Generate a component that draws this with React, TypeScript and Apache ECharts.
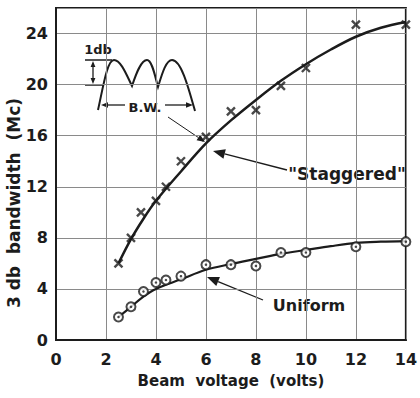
import React, { useEffect, useRef } from "react";
import * as echarts from "echarts";

const xTicks = [0, 2, 4, 6, 8, 10, 12, 14];
const yTicks = [0, 4, 8, 12, 16, 20, 24];

const staggeredX = [2.5, 3, 3.4, 4, 4.4, 5, 6, 7, 8, 9, 10, 12, 14];
const staggeredY = [6, 8, 10, 10.9, 12, 14, 15.9, 17.9, 18, 19.9, 21.3, 24.7, 24.7];

const uniformX = [2.5, 3, 3.5, 4, 4.4, 5, 6, 7, 8, 9, 10, 12, 14];
const uniformY = [1.8, 2.6, 3.8, 4.5, 4.7, 5.0, 5.9, 5.9, 5.8, 6.85, 6.85, 7.3, 7.7];

const staggeredCurveX = [2.5, 3, 3.5, 4, 5, 6, 7, 8, 9, 10, 11, 12, 13, 14];
const staggeredCurveY = [6.0, 7.9, 9.5, 10.9, 13.2, 15.4, 17.2, 18.8, 20.3, 21.6, 22.75, 23.75, 24.45, 24.9];

const uniformCurveX = [2.5, 3, 3.5, 4, 5, 6, 7, 8, 9, 10, 11, 12, 13, 14];
const uniformCurveY = [1.8, 2.6, 3.4, 4.0, 4.75, 5.5, 5.95, 6.35, 6.75, 7.05, 7.35, 7.6, 7.7, 7.75];

const INK = "#1c1c1c";
const FONT = "DejaVu Sans";

function zip(xs: number[], ys: number[]) {
  return xs.map((x, i) => [x, ys[i]]);
}

function arrow(x1: number, y1: number, x2: number, y2: number, w = 1.5, head = 9) {
  const a = Math.atan2(y2 - y1, x2 - x1);
  const hw = head * 0.4;
  const bx = x2 - head * Math.cos(a);
  const by = y2 - head * Math.sin(a);
  const px = -Math.sin(a) * hw;
  const py = Math.cos(a) * hw;
  return [
    { type: "line", shape: { x1, y1, x2: bx, y2: by }, style: { stroke: INK, lineWidth: w } },
    {
      type: "polygon",
      shape: { points: [[x2, y2], [bx + px, by + py], [bx - px, by - py]] },
      style: { fill: INK },
    },
  ];
}

const wavePath =
  "M98,110 C103,88 107,60 114,60 C121,60 127,76 132,86 C136,74 141,60 147,60 C152,60 155,76 158,87 C162,74 166,60 172,60 C181,60 188,86 195,111";

export default function App() {
  const ref = useRef<HTMLDivElement>(null);
  useEffect(() => {
    if (!ref.current) return;
    echarts.graphic.registerShape("wave", echarts.graphic.extendPath(wavePath, {}) as any);
    const chart = echarts.init(ref.current, null, { renderer: "svg" });
    const graphics: any[] = [
      {
        type: "text",
        x: 14,
        y: 203,
        rotation: Math.PI / 2,
        style: {
          text: "3 db  bandwidth  (Mc)",
          font: `bold 17px "${FONT}"`,
          fill: INK,
          align: "center",
          verticalAlign: "middle",
        },
      },
      // inset
      {
        type: "wave",
        x: 0,
        y: 0,
        style: { stroke: INK, lineWidth: 2, fill: "none" },
      },
      { type: "line", shape: { x1: 85, y1: 60, x2: 112, y2: 60 }, style: { stroke: INK, lineWidth: 1.5 } },
      { type: "line", shape: { x1: 85, y1: 85, x2: 103, y2: 85 }, style: { stroke: INK, lineWidth: 1.5 } },
      ...arrow(93, 72, 93, 61, 1.3, 6),
      ...arrow(93, 72, 93, 84, 1.3, 6),
      {
        type: "text",
        x: 98,
        y: 49,
        style: { text: "1db", font: `bold 13px "${FONT}"`, fill: INK, align: "center", verticalAlign: "middle" },
      },
      {
        type: "text",
        x: 145,
        y: 107,
        style: { text: "B.W.", font: `bold 13px "${FONT}"`, fill: INK, align: "center", verticalAlign: "middle" },
      },
      ...arrow(125, 105, 101, 105, 1.3, 7),
      ...arrow(165, 105, 193, 105, 1.3, 7),
      ...arrow(168, 117, 205, 142, 1, 8),
      // Staggered
      {
        type: "text",
        x: 347,
        y: 174,
        style: { text: "\"Staggered\"", font: `bold 17px "${FONT}"`, fill: INK, align: "center", verticalAlign: "middle" },
      },
      ...arrow(287, 170, 213, 151, 1.3, 12),
      // Uniform
      {
        type: "text",
        x: 309,
        y: 305,
        style: { text: "Uniform", font: `bold 16px "${FONT}"`, fill: INK, align: "center", verticalAlign: "middle" },
      },
      ...arrow(263, 300, 207, 277, 1.3, 12),
    ];

    chart.setOption({
      animation: false,
      backgroundColor: "#ffffff",
      grid: {
        left: 56,
        right: 8,
        top: 8,
        bottom: 58,
        show: true,
        borderColor: INK,
        borderWidth: 2,
        backgroundColor: "transparent",
      },
      xAxis: {
        type: "value",
        min: 0,
        max: 14,
        interval: 2,
        name: "Beam  voltage  (volts)",
        nameLocation: "middle",
        nameGap: 33,
        nameTextStyle: { fontFamily: FONT, fontSize: 15, fontWeight: "bold", color: INK },
        axisLine: { show: true, lineStyle: { color: INK, width: 2 } },
        axisTick: { show: false },
        axisLabel: {
          margin: 11,
          fontFamily: FONT,
          fontSize: 16,
          fontWeight: "bold",
          color: INK,
          formatter: (v: number) => (xTicks.includes(v) ? String(v) : ""),
        },
        splitLine: { show: true, lineStyle: { color: "#8a8a8a", width: 1 } },
      },
      yAxis: {
        type: "value",
        min: 0,
        max: 26,
        interval: 4,
        axisLine: { show: true, lineStyle: { color: INK, width: 2 } },
        axisTick: { show: false },
        axisLabel: {
          margin: 8,
          fontFamily: FONT,
          fontSize: 16,
          fontWeight: "bold",
          color: INK,
          formatter: (v: number) => (yTicks.includes(v) ? String(v) : ""),
        },
        splitLine: { show: true, lineStyle: { color: "#8a8a8a", width: 1 } },
      },
      series: [
        {
          type: "line",
          name: "Staggered curve",
          data: zip(staggeredCurveX, staggeredCurveY),
          smooth: 0.35,
          showSymbol: false,
          lineStyle: { color: INK, width: 2.5 },
          z: 3,
        },
        {
          type: "line",
          name: "Uniform curve",
          data: zip(uniformCurveX, uniformCurveY),
          smooth: 0.35,
          showSymbol: false,
          lineStyle: { color: INK, width: 2.2 },
          z: 3,
        },
        {
          type: "scatter",
          name: "Staggered",
          data: zip(staggeredX, staggeredY),
          symbol: "path://M0,0L10,10M10,0L0,10",
          symbolSize: 8,
          itemStyle: { color: "transparent", borderColor: INK, borderWidth: 2.4 },
          z: 4,
        },
        {
          type: "scatter",
          name: "Uniform",
          data: zip(uniformX, uniformY),
          symbol: "circle",
          symbolSize: 9,
          itemStyle: { color: "#ffffff", borderColor: INK, borderWidth: 2 },
          z: 4,
        },
        {
          type: "scatter",
          name: "Uniform dot",
          data: zip(uniformX, uniformY),
          symbol: "circle",
          symbolSize: 2.5,
          itemStyle: { color: INK },
          z: 5,
        },
      ],
      graphic: graphics,
    });
    return () => chart.dispose();
  }, []);
  return <div ref={ref} style={{ position: "fixed", left: 0, top: 0, width: 420, height: 398 }} />;
}
